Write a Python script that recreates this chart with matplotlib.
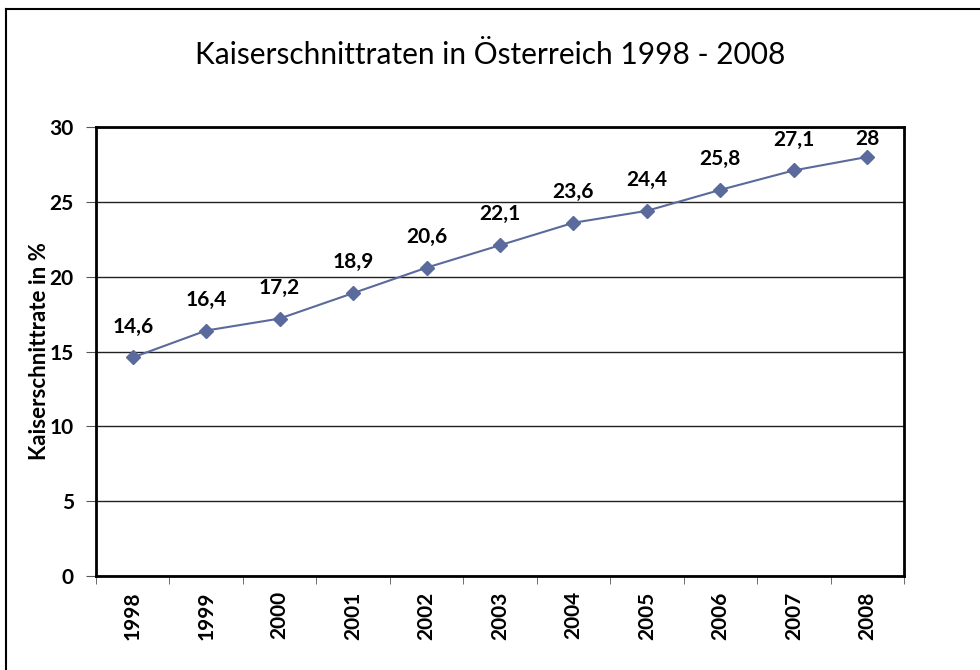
import numpy as np
import matplotlib.pyplot as plt
from matplotlib.lines import Line2D

years = ["1998", "1999", "2000", "2001", "2002", "2003", "2004", "2005", "2006", "2007", "2008"]
rates = [14.6, 16.4, 17.2, 18.9, 20.6, 22.1, 23.6, 24.4, 25.8, 27.1, 28.0]
labels = ["14,6", "16,4", "17,2", "18,9", "20,6", "22,1", "23,6", "24,4", "25,8", "27,1", "28"]

plt.rcParams['font.family'] = ['Lato', 'DejaVu Sans']

fig = plt.figure(figsize=(9.8, 6.7), dpi=100)
ax = fig.add_axes([96 / 980, 1 - 576 / 670, 808 / 980, 449 / 670])

x = np.arange(len(years))
ax.plot(x, rates, color="#5A6A9C", lw=1.5, marker="D", markersize=7.5, zorder=3)
for xi, yi, lab in zip(x, rates, labels):
    # labels near the top are pushed down so they stay inside the plot area
    off = 15 if yi < 27.5 else 6
    ax.annotate(lab, (xi, yi), xytext=(0, off), textcoords="offset points",
                ha="center", va="bottom", fontsize=15, fontweight="bold")

ax.set_xlim(-0.5, len(years) - 0.5)
ax.set_ylim(0, 30)
ax.set_yticks(np.arange(0, 31, 5))
ax.set_yticklabels([str(v) for v in range(0, 31, 5)], fontsize=15, fontweight="bold")
ax.set_xticks(x)
ax.set_xticklabels(years, rotation=90, fontsize=15, fontweight="bold")
ax.set_xticks(np.arange(-0.5, len(years)), minor=True)
ax.tick_params(axis="x", which="major", length=0, pad=11)
ax.tick_params(axis="x", which="minor", length=6, color="#555555", direction="out")
ax.tick_params(axis="y", length=7, color="#555555", direction="out", pad=9)

ax.yaxis.grid(True, color="#222222", lw=1)
ax.set_axisbelow(True)
for s in ax.spines.values():
    s.set_linewidth(2)
    s.set_color("black")

ax.set_ylabel("Kaiserschnittrate in %", fontsize=16, fontweight="bold", labelpad=0)
fig.text(0.5, 1 - 55 / 670, "Kaiserschnittraten in Österreich 1998 - 2008",
         ha="center", va="center", fontsize=21.5)

# outer frame (only top and left edges visible)
fig.add_artist(Line2D([6 / 980, 6 / 980], [0, 1 - 9 / 670], color="black", lw=1.5))
fig.add_artist(Line2D([6 / 980, 1], [1 - 9 / 670, 1 - 9 / 670], color="black", lw=1.5))

plt.savefig("out.png", dpi=100)
